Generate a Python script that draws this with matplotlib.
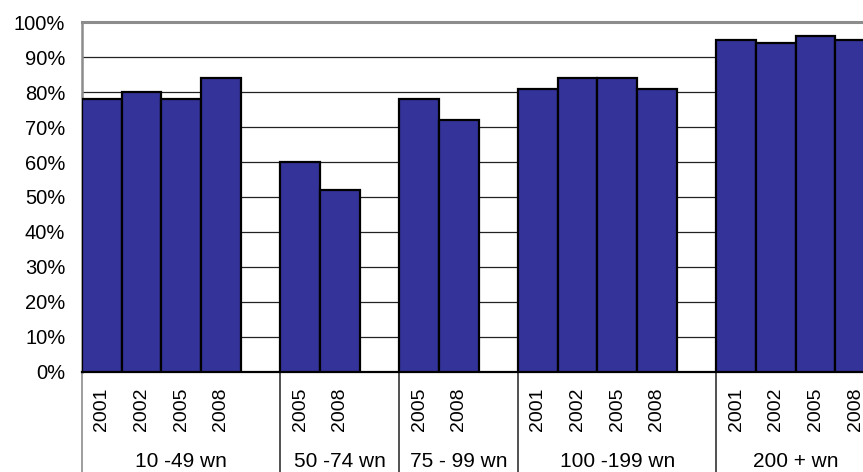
import matplotlib
matplotlib.use("Agg")
import matplotlib.pyplot as plt
from matplotlib.lines import Line2D
import matplotlib.transforms as mtransforms

plt.rcParams['font.family'] = ['Liberation Sans', 'DejaVu Sans']

groups = ["10 -49 wn", "50 -74 wn", "75 - 99 wn", "100 -199 wn", "200 + wn"]
years_g1 = ["2001", "2002", "2005", "2008"]
years_g2 = ["2005", "2008"]
years_g3 = ["2005", "2008"]
years_g4 = ["2001", "2002", "2005", "2008"]
years_g5 = ["2001", "2002", "2005", "2008"]
values_g1 = [78, 80, 78, 84]
values_g2 = [60, 52]
values_g3 = [78, 72]
values_g4 = [81, 84, 84, 81]
values_g5 = [95, 94, 96, 95]

years = [years_g1, years_g2, years_g3, years_g4, years_g5]
values = [values_g1, values_g2, values_g3, values_g4, values_g5]

W, H = 863, 472
fig = plt.figure(figsize=(W / 100, H / 100), dpi=100)
slot = 39.65
n_slots = sum(len(y) + 1 for y in years) - 1
ax = fig.add_axes([82 / W, 100.5 / H, n_slots * slot / W, 349 / H])

bar_x, bar_v, tick_x, tick_l, starts, centers = [], [], [], [], [], []
pos = 0
for gi, (ys, vs) in enumerate(zip(years, values)):
    starts.append(pos)
    span = len(ys) + (1 if gi < len(years) - 1 else 0)
    centers.append(pos + span / 2)
    for j, (y, v) in enumerate(zip(ys, vs)):
        bar_x.append(pos + j)
        bar_v.append(v)
        tick_x.append(pos + j + 0.5)
        tick_l.append(y)
    pos += span

ax.bar(bar_x, bar_v, width=1.0, align='edge', color='#333399',
       edgecolor='black', linewidth=1.6, zorder=3)

ax.set_xlim(0, n_slots)
ax.set_ylim(0, 100)
ax.set_yticks(range(0, 101, 10))
ax.set_yticklabels([f"{v}%" for v in range(0, 101, 10)], fontsize=14.5)
ax.tick_params(axis='y', length=0, pad=12)
ax.set_xticks(tick_x)
ax.set_xticklabels(tick_l, rotation=90, fontsize=14)
ax.tick_params(axis='x', length=0, pad=11.5)

ax.set_axisbelow(True)
ax.yaxis.grid(True, color='#222222', linewidth=0.9)

ax.spines['right'].set_visible(False)
ax.spines['top'].set_color('#8c8c8c')
ax.spines['top'].set_linewidth(2.2)
ax.spines['left'].set_color('#8c8c8c')
ax.spines['left'].set_linewidth(1.8)
ax.spines['bottom'].set_color('black')
ax.spines['bottom'].set_linewidth(1.6)
ax.spines['top'].set_zorder(4)

trans = mtransforms.blended_transform_factory(ax.transData, ax.transAxes)
for i, s in enumerate(starts):
    col = '#8c8c8c' if i == 0 else '#333333'
    ax.add_line(Line2D([s, s], [0, -0.35], transform=trans, color=col,
                       linewidth=1.2, clip_on=False))
for c, g in zip(centers, groups):
    ax.text(c, -0.258, g, transform=trans, ha='center', va='center', fontsize=15)

fig.savefig("out.png", dpi=100)
